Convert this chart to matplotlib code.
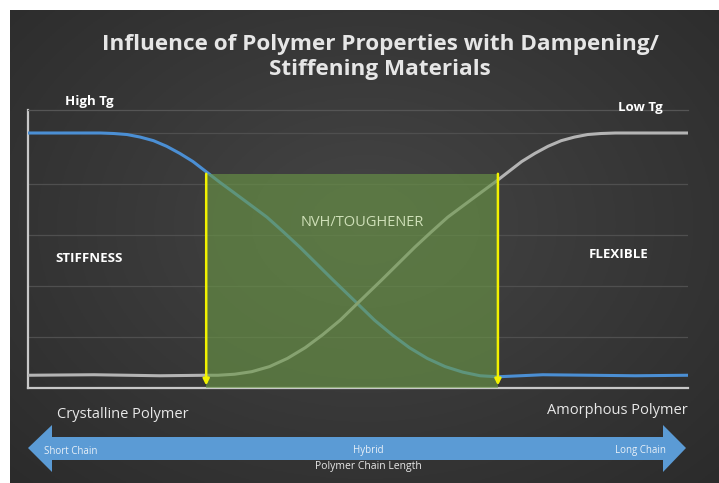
import numpy as np
import matplotlib
matplotlib.use("Agg")
import matplotlib.pyplot as plt
from matplotlib.patches import Polygon

# ---- data ----
x_blue = [0, 8, 11, 13, 15, 17, 19, 21, 23, 25, 27, 29, 31.1, 33.5, 36.2, 38.7, 41.2, 43.7, 46.2,
          49.8, 52.5, 55.2, 57.8, 60.5, 63.2, 65.9, 68.5, 71.2, 78, 85, 92, 100]
y_blue = [5.0, 5.0, 5.0, 4.99, 4.97, 4.92, 4.85, 4.74, 4.6, 4.44, 4.24, 4.04, 3.84, 3.61, 3.35, 3.06, 2.76, 2.44, 2.12,
          1.67, 1.33, 1.04, 0.79, 0.58, 0.42, 0.31, 0.24, 0.22, 0.26, 0.25, 0.24, 0.25]
x_gray = [0, 10, 20, 27, 28.8, 31.3, 33.9, 36.6, 39.3, 42, 44.6, 47.3, 50, 53.6, 56.1, 58.6, 61.1, 63.6,
          66.3, 68.7, 70.8, 72.8, 74.8, 76.8, 78.8, 80.8, 82.8, 84.8, 86.8, 89, 100]
y_gray = [0.25, 0.26, 0.24, 0.25, 0.25, 0.27, 0.32, 0.42, 0.58, 0.79, 1.04, 1.33, 1.67, 2.12, 2.44, 2.76, 3.06, 3.35,
          3.61, 3.84, 4.04, 4.24, 4.44, 4.6, 4.74, 4.85, 4.92, 4.97, 4.99, 5.0, 5.0]
zone_x = [27, 71.2]
zone_top = 4.2
y_ticks = [1, 2, 3, 4, 5]

title = "Influence of Polymer Properties with Dampening/\nStiffening Materials"

W, H = 719, 483
fig = plt.figure(figsize=(W / 100, H / 100), dpi=100)
fig.patch.set_facecolor("white")

# background panel with radial gradient
bg = fig.add_axes([10 / W, 0, (W - 10) / W, (H - 10) / H])
bg.set_axis_off()
yy, xx = np.mgrid[0:200, 0:300]
r = np.sqrt(((xx - 150) / 150) ** 2 + ((yy - 90) / 110) ** 2)
v = 0.27 - 0.10 * np.clip(r, 0, 1.4) / 1.4
img = np.dstack([v, v, v])
bg.imshow(img, aspect="auto", extent=[0, 1, 0, 1])
bg.set_xlim(0, 1)
bg.set_ylim(0, 1)

# main plot
L, R, T, B = 28, 688, 110, 388
ax = fig.add_axes([L / W, (H - B) / H, (R - L) / W, (B - T) / H])
ax.patch.set_alpha(0)
ax.set_xlim(0, 100)
ax.set_ylim(0, (B - T) / 51.0)
for yv in y_ticks:
    ax.axhline(yv, color="#4f4f4f", lw=0.9, zorder=1)
ax.plot(x_blue, y_blue, color="#4b8fd4", lw=2.2, zorder=3, solid_capstyle="round", solid_joinstyle="round")
ax.plot(x_gray, y_gray, color="#b4b4b4", lw=2.2, zorder=3, solid_capstyle="round", solid_joinstyle="round")
ax.fill_between(zone_x, [0, 0], [zone_top, zone_top], color="#6b9846", alpha=0.62, lw=0, zorder=4)
for xv in zone_x:
    ax.annotate("", xy=(xv, 0.05), xytext=(xv, zone_top),
                arrowprops=dict(arrowstyle="-|>", color="#f2f200", lw=1.8, mutation_scale=9,
                                shrinkA=0, shrinkB=0), zorder=5)
ax.set_xticks([])
ax.set_yticks([])
for s in ["left", "bottom"]:
    ax.spines[s].set_color("#c8c8c8")
    ax.spines[s].set_linewidth(1.6)
ax.spines["top"].set_color("#555555")
ax.spines["top"].set_linewidth(0.9)
ax.spines["right"].set_visible(False)

# overlay in pixel coordinates for text and arrow
ov = fig.add_axes([0, 0, 1, 1])
ov.set_axis_off()
ov.set_xlim(0, W)
ov.set_ylim(H, 0)
ov.patch.set_alpha(0)

fam = ["Open Sans", "DejaVu Sans"]
ov.text(380, 57, title, ha="center", va="center", color="#e6e6e6", fontsize=16.2,
        fontweight="bold", family=fam, linespacing=1.3)
ov.text(65, 102, "High Tg", ha="left", va="center", color="white", fontsize=9.5, fontweight="bold", family=fam)
ov.text(663, 108, "Low Tg", ha="right", va="center", color="white", fontsize=9.5, fontweight="bold", family=fam)
ov.text(55, 258, "STIFFNESS", ha="left", va="center", color="white", fontsize=9.5, fontweight="bold", family=fam)
ov.text(648, 255, "FLEXIBLE", ha="right", va="center", color="white", fontsize=9.5, fontweight="bold", family=fam)
ov.text(362, 223, "NVH/TOUGHENER", ha="center", va="center", color="#cfe0b8", fontsize=10.5, family=fam)
ov.text(57, 414, "Crystalline Polymer", ha="left", va="center", color="#e8e8e8", fontsize=10.5, family=fam)
ov.text(688, 410, "Amorphous Polymer", ha="right", va="center", color="#e8e8e8", fontsize=10.5, family=fam)

arrow = Polygon([(28, 448), (52, 425), (52, 437), (663, 437), (663, 425), (686, 448),
                 (663, 472), (663, 460), (52, 460), (52, 472)], closed=True,
                facecolor="#5b9bd5", edgecolor="none")
ov.add_patch(arrow)
ov.text(44, 451, "Short Chain", ha="left", va="center", color="#e8f0f8", fontsize=7, family=fam)
ov.text(368, 451, "Hybrid", ha="center", va="center", color="#e8f0f8", fontsize=7, family=fam)
ov.text(666, 451, "Long Chain", ha="right", va="center", color="#e8f0f8", fontsize=7, family=fam)
ov.text(368, 467, "Polymer Chain Length", ha="center", va="center", color="#e8e8e8", fontsize=7.5, family=fam)

fig.savefig("out.png", dpi=100, facecolor=fig.get_facecolor())
